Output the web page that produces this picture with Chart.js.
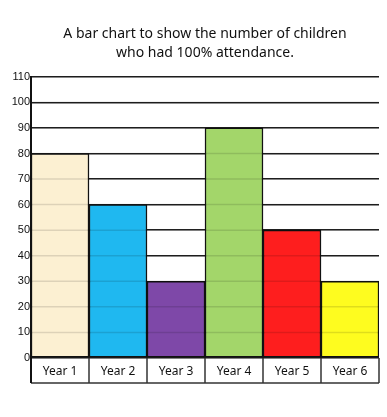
<!DOCTYPE html>
<html>
<head>
<meta charset="utf-8">
<script src="https://cdn.jsdelivr.net/npm/chart.js@4.4.0/dist/chart.umd.min.js"></script>
<style>
  html, body { margin: 0; padding: 0; background: #fff; }
  #wrap { width: 387px; height: 417px; }
</style>
</head>
<body>
<div id="wrap"><canvas id="attendanceChart"></canvas></div>
<script>
const years = ['Year 1', 'Year 2', 'Year 3', 'Year 4', 'Year 5', 'Year 6'];
const children = [80, 60, 30, 90, 50, 30];
const barColours = ['#fcf0d2', '#1fb8f0', '#7e48a8', '#a3d66a', '#fe1e1e', '#fefc1f'];
const titleLines = ['A bar chart to show the number of children', 'who had 100% attendance.'];

// faint grid over the bars, plus the label boxes under the axis
const tablePlugin = {
  id: 'tablePlugin',
  afterDatasetsDraw(chart) {
    const { ctx, chartArea, scales } = chart;
    const y = scales.y;
    ctx.save();
    ctx.strokeStyle = 'rgba(0,0,0,0.12)';
    ctx.lineWidth = 1.5;
    y.ticks.forEach(t => {
      const py = y.getPixelForValue(t.value);
      ctx.beginPath();
      ctx.moveTo(chartArea.left, py);
      ctx.lineTo(chartArea.right, py);
      ctx.stroke();
    });
    ctx.restore();
  },
  afterDraw(chart) {
    const { ctx, chartArea, scales } = chart;
    const x = scales.x;
    const bottom = chartArea.bottom + 25;
    ctx.save();
    ctx.strokeStyle = '#333';
    ctx.lineWidth = 1.5;
    const step = x.getPixelForValue(1) - x.getPixelForValue(0);
    for (let i = 0; i <= years.length; i++) {
      const px = x.getPixelForValue(i) - step / 2;
      ctx.beginPath();
      ctx.moveTo(px, chartArea.bottom);
      ctx.lineTo(px, bottom);
      ctx.stroke();
    }
    ctx.beginPath();
    ctx.moveTo(chartArea.left, bottom);
    ctx.lineTo(chartArea.right, bottom);
    ctx.stroke();
    ctx.strokeStyle = '#111';
    ctx.lineWidth = 2;
    ctx.beginPath();
    ctx.moveTo(chartArea.left, chartArea.top);
    ctx.lineTo(chartArea.left, bottom);
    ctx.stroke();
    ctx.restore();
  }
};

new Chart(document.getElementById('attendanceChart'), {
  type: 'bar',
  data: {
    labels: years,
    datasets: [{
      data: children,
      backgroundColor: barColours,
      borderColor: '#111',
      borderWidth: 1.5,
      borderSkipped: false,
      barPercentage: 1,
      categoryPercentage: 1
    }]
  },
  options: {
    responsive: true,
    maintainAspectRatio: false,
    animation: false,
    layout: { padding: { left: 0, right: 8, top: 0, bottom: 0 } },
    scales: {
      y: {
        min: 0,
        max: 110,
        ticks: { stepSize: 10, color: '#111', font: { family: 'Liberation Sans', size: 11 }, padding: 1 },
        grid: { color: '#222', lineWidth: 1.5, drawTicks: false },
        border: { color: '#111', width: 2 },
        afterFit(scale) { scale.width = 31; }
      },
      x: {
        ticks: { color: '#111', font: { family: 'Noto Sans', size: 12 }, padding: -2 },
        grid: { display: false },
        border: { display: false },
        afterFit(scale) { scale.height = 59; }
      }
    },
    plugins: {
      legend: { display: false },
      tooltip: { enabled: false },
      title: {
        display: true,
        fullSize: false,
        text: titleLines,
        color: '#111',
        font: { family: 'Noto Sans', size: 14, weight: 'normal', lineHeight: 1.35 },
        padding: { top: 25, bottom: 14 }
      }
    }
  },
  plugins: [tablePlugin]
});
</script>
</body>
</html>
